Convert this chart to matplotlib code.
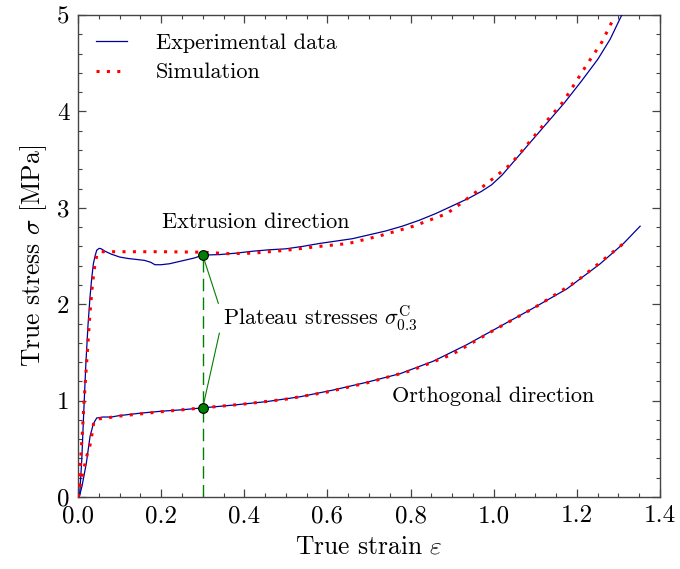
import matplotlib
matplotlib.use("Agg")
import matplotlib.pyplot as plt
from matplotlib.ticker import MultipleLocator

plt.rcParams['font.family'] = ['cmr10', 'DejaVu Serif']
plt.rcParams['mathtext.fontset'] = 'cm'
plt.rcParams['axes.formatter.use_mathtext'] = True
plt.rcParams['axes.unicode_minus'] = False

# Experimental data, extrusion direction
exp_ext_x = [0.0, 0.004, 0.009, 0.014, 0.019, 0.024, 0.029, 0.033, 0.037, 0.041, 0.045, 0.051,
             0.056, 0.065, 0.08, 0.1, 0.12, 0.14, 0.16, 0.175, 0.185, 0.2, 0.22, 0.24, 0.26,
             0.28, 0.3, 0.34, 0.38, 0.42, 0.46, 0.5, 0.54, 0.58, 0.62, 0.66, 0.70, 0.74,
             0.78, 0.82, 0.86, 0.9, 0.94, 0.97, 0.995, 1.02, 1.05, 1.09, 1.13, 1.17, 1.21,
             1.25, 1.28, 1.31]
exp_ext_y = [0.0, 0.02, 0.38, 0.9, 1.39, 1.78, 2.08, 2.27, 2.42, 2.5, 2.56, 2.58,
             2.575, 2.55, 2.52, 2.49, 2.475, 2.465, 2.455, 2.435, 2.41, 2.41, 2.42, 2.44, 2.46,
             2.48, 2.51, 2.515, 2.53, 2.55, 2.565, 2.575, 2.6, 2.63, 2.655, 2.68, 2.72, 2.76,
             2.81, 2.87, 2.94, 3.02, 3.1, 3.17, 3.24, 3.34, 3.49, 3.69, 3.89, 4.09, 4.31,
             4.54, 4.75, 5.02]

# Simulation, extrusion direction
sim_ext_x = [0.0, 0.002, 0.005, 0.008, 0.011, 0.014, 0.019, 0.026, 0.03, 0.035, 0.041, 0.046,
             0.052, 0.1, 0.2, 0.3, 0.36, 0.42, 0.5, 0.58, 0.65, 0.726, 0.807, 0.887, 0.919,
             0.959, 1.0, 1.04, 1.087, 1.127, 1.167, 1.223, 1.26, 1.29]
sim_ext_y = [0.0, 0.1, 0.3, 0.5, 0.7, 0.95, 1.28, 1.73, 1.97, 2.22, 2.42, 2.52,
             2.545, 2.545, 2.545, 2.54, 2.525, 2.53, 2.56, 2.6, 2.63, 2.71, 2.81, 2.94, 3.04,
             3.17, 3.31, 3.45, 3.69, 3.9, 4.1, 4.48, 4.72, 4.98]

# Experimental data, orthogonal direction
exp_orth_x = [0.0, 0.003, 0.01, 0.02, 0.029, 0.037, 0.045, 0.06, 0.08, 0.1, 0.15, 0.2, 0.25,
              0.3, 0.374, 0.454, 0.534, 0.614, 0.694, 0.775, 0.855, 0.935, 1.015, 1.095,
              1.176, 1.256, 1.312, 1.352]
exp_orth_y = [0.0, 0.0, 0.12, 0.35, 0.63, 0.76, 0.82, 0.83, 0.83, 0.845, 0.87, 0.89, 0.905,
              0.925, 0.954, 0.99, 1.04, 1.11, 1.19, 1.28, 1.41, 1.58, 1.77, 1.96,
              2.16, 2.42, 2.63, 2.81]

# Simulation, orthogonal direction
sim_orth_x = [0.0, 0.005, 0.015, 0.022, 0.029, 0.034, 0.038, 0.045, 0.06, 0.1, 0.2, 0.3, 0.4,
              0.5, 0.6, 0.7, 0.8, 0.9, 1.0, 1.1, 1.2, 1.312]
sim_orth_y = [0.0, 0.12, 0.31, 0.44, 0.54, 0.66, 0.78, 0.81, 0.815, 0.84, 0.885, 0.925, 0.965,
              1.015, 1.09, 1.19, 1.31, 1.48, 1.73, 1.97, 2.24, 2.63]

plateau_strain = 0.3
plateau_stress = [2.51, 0.925]

fig = plt.figure(figsize=(6.8, 5.69), dpi=100)
ax = fig.add_axes([0.1147, 0.1265, 0.856, 0.847])

blue = '#00009c'
red = '#ff0000'
green = '#008000'

ax.plot(exp_ext_x, exp_ext_y, color=blue, lw=0.9, label='Experimental data', zorder=3)
ax.plot(sim_ext_x, sim_ext_y, color=red, lw=2.2, linestyle=(0, (1, 2.4)),
        dash_capstyle='butt', label='Simulation', zorder=4)
ax.plot(exp_orth_x, exp_orth_y, color=blue, lw=0.9, zorder=3)
ax.plot(sim_orth_x, sim_orth_y, color=red, lw=2.2, linestyle=(0, (1, 2.4)),
        dash_capstyle='butt', zorder=4)

# vertical dashed line at plateau strain
ax.plot([plateau_strain, plateau_strain], [0, plateau_stress[0]], color=green, lw=1.0,
        dashes=(9, 4.5), zorder=2)
# annotation connector lines
ax.plot([0.3375, plateau_strain], [2.01, plateau_stress[0]], color=green, lw=0.8, zorder=2)
ax.plot([0.34, plateau_strain], [1.70, plateau_stress[1]], color=green, lw=0.8, zorder=2)
ax.plot([plateau_strain] * 2, plateau_stress, linestyle='none', marker='o', markersize=7,
        markerfacecolor=green, markeredgecolor='black', markeredgewidth=0.8, zorder=6)

ax.text(0.427, 2.787, 'Extrusion direction', fontsize=16, ha='center', va='baseline')
ax.text(0.348, 1.784, r'Plateau stresses $\sigma^{\mathrm{C}}_{0.3}$', fontsize=16,
        ha='left', va='baseline')
ax.text(0.998, 0.989, 'Orthogonal direction', fontsize=16, ha='center', va='baseline')

ax.set_xlim(0, 1.4)
ax.set_ylim(0, 5)
ax.xaxis.set_major_locator(MultipleLocator(0.2))
ax.xaxis.set_minor_locator(MultipleLocator(0.05))
ax.yaxis.set_major_locator(MultipleLocator(1))
ax.yaxis.set_minor_locator(MultipleLocator(0.2))
ax.xaxis.set_major_formatter(plt.FuncFormatter(lambda v, p: f'{v:.1f}'))
ax.yaxis.set_major_formatter(plt.FuncFormatter(lambda v, p: f'{v:.0f}'))

spine_c = '#444444'
for s in ax.spines.values():
    s.set_color(spine_c)
    s.set_linewidth(1.0)
ax.tick_params(which='both', direction='in', top=True, right=True, color=spine_c,
               labelsize=18)
ax.tick_params(which='major', length=6, width=0.9, pad=6)
ax.tick_params(which='minor', length=3, width=0.8)

ax.set_xlabel(r'True strain $\varepsilon$', fontsize=18.4, labelpad=5)
ax.set_ylabel(r'True stress $\sigma$ [MPa]', fontsize=18.4, labelpad=6)

leg = ax.legend(loc='upper left', bbox_to_anchor=(0.0, 1.0), frameon=False, fontsize=16,
                handlelength=1.4, handletextpad=1.3, labelspacing=0.45,
                borderaxespad=0.42)

fig.savefig('out.png', dpi=100)
